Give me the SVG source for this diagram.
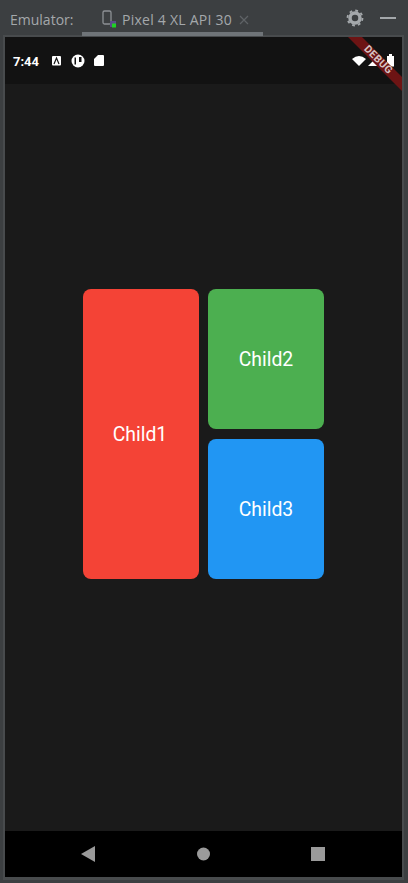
<svg xmlns="http://www.w3.org/2000/svg" width="408" height="883" viewBox="0 0 408 883">
<style>
.ide{font-family:"Open Sans","Liberation Sans",sans-serif;font-size:14px;fill:#a4a8ab}
.child{font-family:Roboto,"Liberation Sans",sans-serif;font-size:19.400px;fill:#fff;text-anchor:middle}
.nav{fill:#9a9a9a}
</style>
<rect width="408" height="883" fill="#3c3f41"/>
<rect x="3" y="35" width="401" height="845" fill="#484b4d"/>
<rect x="5" y="37" width="397" height="840" fill="#1a1a1a"/>
<rect x="5" y="37" width="397" height="47" fill="#121212"/>
<rect x="5" y="831" width="397" height="46" fill="#000"/>
<rect x="82" y="32" width="181" height="4" fill="#6f7478"/>
<g id="toolbar">
<text class="ide" x="10" y="25">Emulator:</text>
<rect x="103" y="11" width="8" height="13" rx="1.5" fill="none" stroke="#8d9195" stroke-width="1.3"/>
<rect x="110" y="21" width="6" height="6" fill="#5d4a8a"/>
<rect x="112" y="23.500" width="4" height="4" fill="#1fd224"/>
<text class="ide" x="122" y="25" letter-spacing=".25">Pixel 4 XL API 30</text>
<path d="M240 16l8 8M248 16l-8 8" stroke="#5f6366" stroke-width="1.200" fill="none"/>
<circle cx="355" cy="18" r="5" fill="none" stroke="#a4a8ab" stroke-width="3.500"/>
<circle cx="355" cy="18" r="7.500" fill="none" stroke="#a4a8ab" stroke-width="1.800" stroke-dasharray="2.800 3.090"/>
<rect x="380" y="17" width="16" height="2" fill="#a4a8ab"/>
</g>
<g id="status-bar">
<text x="13" y="66" font-family="Roboto,'Liberation Sans',sans-serif" font-size="13" font-weight="700" fill="#fff">7:44</text>
<rect x="52" y="56" width="9" height="9.500" rx="1" fill="#fff"/>
<path d="M54 64l2.500-6 2.500 6" fill="none" stroke="#121212" stroke-width="1.200"/>
<circle cx="78" cy="61" r="6.500" fill="#fff"/>
<path d="M76 57.500h-1.500v7h1.500zM79 57v5h2.500v-5z" fill="#121212"/>
<path d="M98 55h5a1 1 0 0 1 1 1v9a1 1 0 0 1-1 1h-8a1 1 0 0 1-1-1v-6z" fill="#fff"/>
<path d="M352 59q7-6 14 0l-7 7z" fill="#fff"/>
<path d="M368 66l10-10v10z" fill="#fff"/>
<path d="M389 56v-2h3v2h2v10.500h-7v-10.500z" fill="#fff"/>
</g>
<g id="debug-banner">
<path d="M348 37h14l40 40v14z" fill="#6d1414"/>
<text x="0" y="0" transform="translate(376 62) rotate(45)" font-family="Roboto,'Liberation Sans',sans-serif" font-size="10.500" font-weight="700" fill="#d8c4c4" text-anchor="middle" letter-spacing=".4">DEBUG</text>
</g>
<g id="child1">
<rect x="83" y="289" width="116" height="290" rx="8" fill="#f44336"/>
<text class="child" x="140" y="440.500">Child1</text>
</g>
<g id="child2">
<rect x="208" y="289" width="116" height="140" rx="8" fill="#4caf50"/>
<text class="child" x="266" y="366">Child2</text>
</g>
<g id="child3">
<rect x="208" y="439" width="116" height="140" rx="8" fill="#2196f3"/>
<text class="child" x="266" y="516">Child3</text>
</g>
<g id="nav-bar">
<path class="nav" d="M95 846v16l-14-8z"/>
<circle class="nav" cx="203.500" cy="854" r="6.500"/>
<rect class="nav" x="311" y="847" width="14" height="14"/>
</g>
</svg>
